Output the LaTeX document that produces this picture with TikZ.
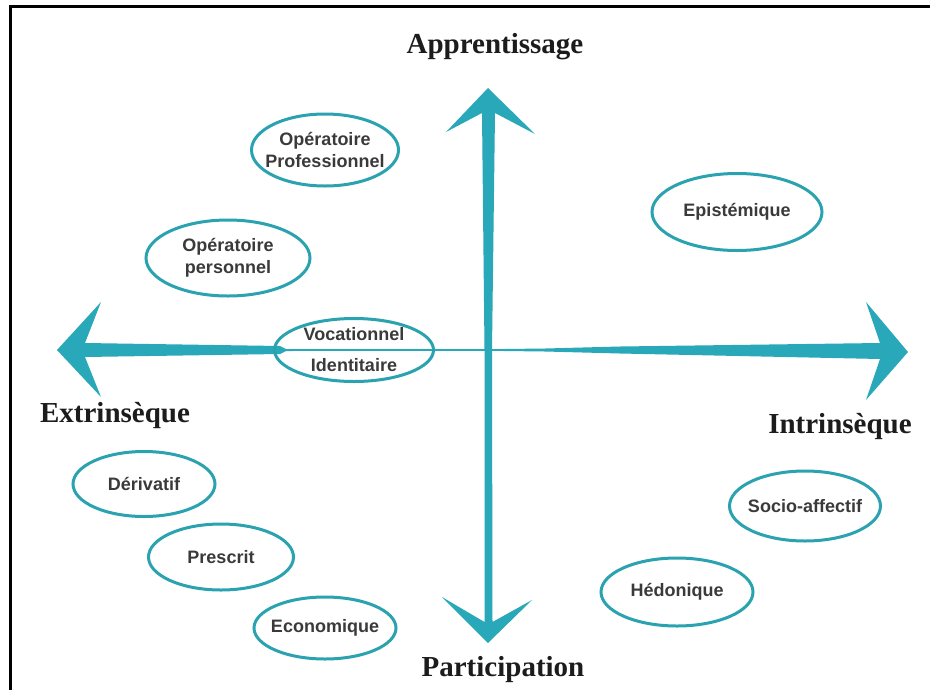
\documentclass[tikz,border=0pt]{standalone}
\usepackage{fontspec}
\setmainfont{Liberation Sans}
\newfontfamily\headfont{Liberation Serif}
\usetikzlibrary{shapes.geometric}
\definecolor{axiscol}{RGB}{40,168,184}
\definecolor{ovalcol}{RGB}{42,162,175}
\definecolor{labelcol}{RGB}{58,58,58}
\definecolor{headcol}{RGB}{28,28,28}
\tikzset{
  oval/.style={ellipse, draw=ovalcol, line width=3pt, inner sep=0pt},
  tag/.style={font=\bfseries\fontsize{18}{22}\selectfont, text=labelcol, align=center},
  head/.style={font=\headfont\bfseries\fontsize{29}{34}\selectfont, text=headcol, anchor=base}
}
\begin{document}
\begin{tikzpicture}[x=1pt,y=-1pt]
      \useasboundingbox (0,0) rectangle (930,689);
      \draw[line width=3pt] (932,6.5) -- (10.5,6.5) -- (10.5,691);
      % axes
      \coordinate (up) at (488,88);
      \coordinate (down) at (488,643);
      \coordinate (left) at (57,350);
      \coordinate (right) at (908,352);
      \fill[axiscol] (up) -- (446,132) -- (482,113) -- (484.5,350) -- (484.5,622)
        -- (442,597) -- (down) -- (532,600) -- (492.5,622) -- (492,350)
        -- (495,113) -- (535,134) -- cycle;
      \fill[axiscol] (left) -- (101,302) -- (85,343) -- (280,346) -- (286,349)
        -- (488,349.2) -- (545,348.5) -- (620,346.5) -- (880,343) -- (866,302)
        -- (right) -- (866,400) -- (880,359) -- (620,353.5) -- (545,351.5)
        -- (488,350.8) -- (286,351) -- (280,354) -- (85,357) -- (101,397) -- cycle;
      \node[head] (app) at (495,53) {Apprentissage};
      \node[head] (part) at (503,676) {Participation};
      \node[head] (extr) at (115,422) {Extrinsèque};
      \node[head] (intr) at (840,433) {Intrinsèque};
      % motifs
      \node[oval, minimum width=147pt, minimum height=72pt,
        label={[tag]center:Opératoire\\Professionnel}] (opro) at (325,150) {};
      \node[oval, minimum width=164pt, minimum height=76pt,
        label={[tag]center:Opératoire\\personnel}] (oper) at (228,258) {};
      \node[oval, minimum width=159pt, minimum height=63pt,
        label={[tag, font=\bfseries\fontsize{18}{31}\selectfont]center:Vocationnel\\Identitaire}] (voca) at (354,350) {};
      \node[oval, minimum width=170pt, minimum height=77pt,
        label={[tag]center:Epistémique}] (epis) at (737,212) {};
      \node[oval, minimum width=142pt, minimum height=65pt,
        label={[tag]center:Dérivatif}] (deri) at (144,484) {};
      \node[oval, minimum width=145pt, minimum height=66pt,
        label={[tag]center:Prescrit}] (pres) at (221,557) {};
      \node[oval, minimum width=142pt, minimum height=62pt,
        label={[tag]center:Economique}] (econ) at (325,628) {};
      \node[oval, minimum width=151pt, minimum height=70pt,
        label={[tag]center:Socio-affectif}] (soci) at (805,506) {};
      \node[oval, minimum width=152pt, minimum height=68pt,
        label={[tag]center:Hédonique}] (hedo) at (677,592) {};
    \end{tikzpicture}
\end{document}
